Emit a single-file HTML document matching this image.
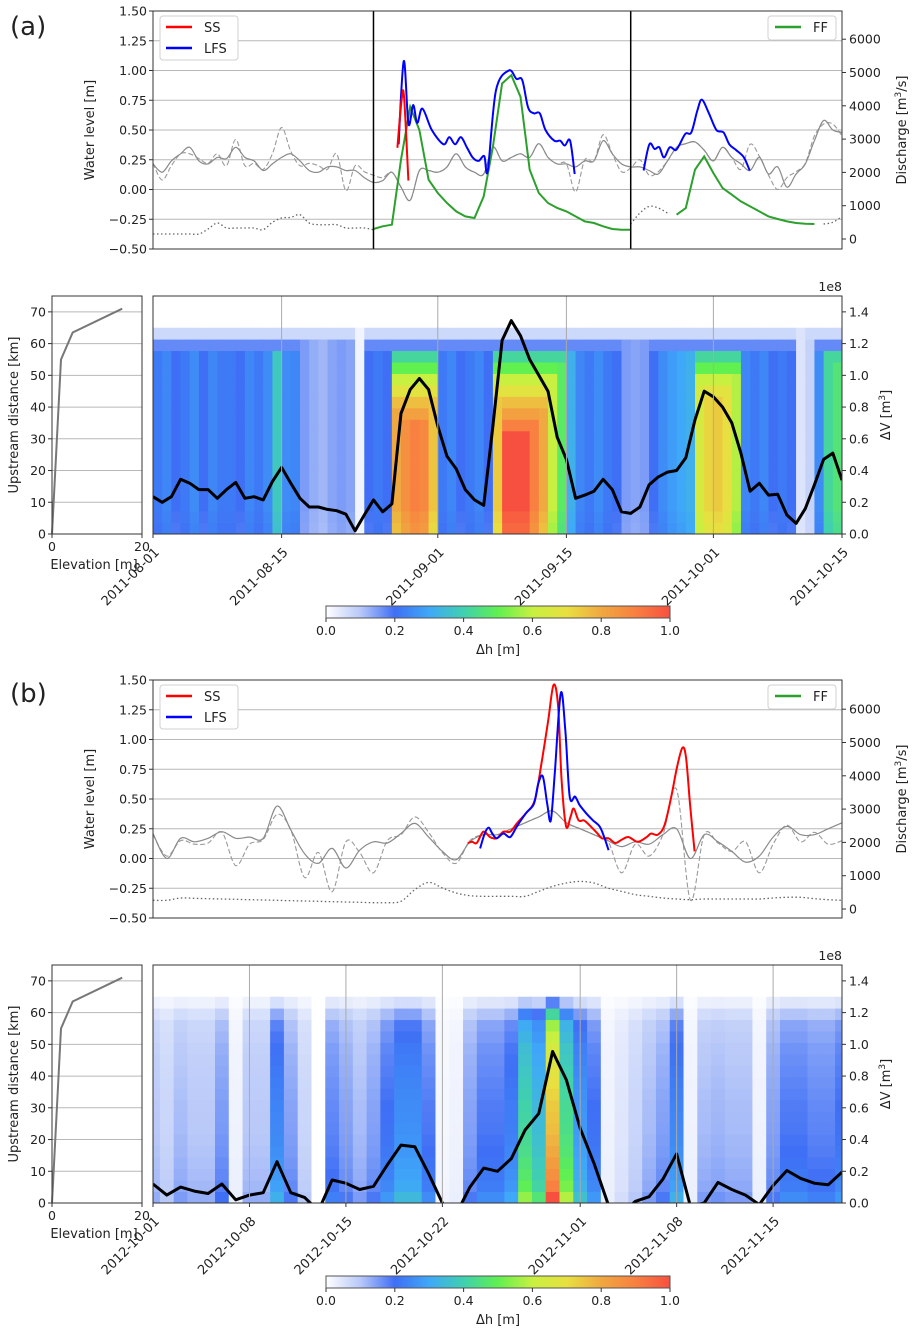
<!DOCTYPE html>
<html><head><meta charset="utf-8"><style>
body{margin:0;background:#fff;}
svg{display:block;font-family:"DejaVu Sans","Liberation Sans",sans-serif;}
text{fill:#222;}
</style></head><body>
<svg id="fig" width="916" height="1334" viewBox="0 0 916 1334" xmlns="http://www.w3.org/2000/svg">
<defs>
<linearGradient id="cmap" x1="0" x2="1" y1="0" y2="0">
<stop offset="0" stop-color="#ffffff"/><stop offset="0.1" stop-color="#b8c8f8"/><stop offset="0.2" stop-color="#3f6ff5"/><stop offset="0.3" stop-color="#3fa8f8"/><stop offset="0.4" stop-color="#40d0b0"/><stop offset="0.5" stop-color="#60f050"/><stop offset="0.6" stop-color="#c8f040"/><stop offset="0.7" stop-color="#e8e040"/><stop offset="0.8" stop-color="#f0a840"/><stop offset="0.9" stop-color="#f88040"/><stop offset="1" stop-color="#f85040"/>
</linearGradient>
<clipPath id="clipTopA"><rect x="153" y="11" width="689" height="238"/></clipPath>
<clipPath id="clipTopB"><rect x="153" y="680" width="689" height="238"/></clipPath>
<clipPath id="clipHeatA"><rect x="153" y="296" width="689" height="238"/></clipPath>
<clipPath id="clipHeatB"><rect x="153" y="965" width="689" height="238"/></clipPath>
</defs>
</svg>
<script>
// ---------- data: panel (a) top ----------
const topASolid=[.215,.145,.24,.30,.355,.24,.215,.27,.26,.355,.27,.24,.16,.215,.27,.30,.24,.16,.145,.19,.19,.16,.16,.10,.06,.075,.145,.02,-.09,.16,.16,.145,.19,.30,.19,.145,.13,.355,.24,.27,.30,.27,.385,.27,.215,.215,.19,.24,.24,.41,.30,.215,.19,.19,.16,.13,.24,.355,.385,.40,.33,.24,.355,.27,.215,.16,.27,.13,.19,.02,.13,.215,.41,.58,.50,.48];
const topADash=[.22,.08,.2,.3,.3,.26,.22,.3,.2,.42,.2,.22,.17,.3,.52,.32,.2,.22,.2,.17,.3,-.01,.2,.15,.12,.1,.145,.02,-.09,.16,.16,.145,.19,.30,.19,.145,.13,.355,.24,.27,.30,.27,.385,.27,.215,.215,-.02,.25,.24,.46,.3,.15,.18,.25,.12,.15,.24,.355,.385,.40,.33,.24,.355,.27,.17,.38,.28,.12,.0,.1,.15,.22,.45,.55,.55,.45];
const topADot=[150,150,150,150,150,150,300,480,330,330,330,330,280,500,630,650,730,480,430,430,430,330,330,330,280,null,null,null,null,null,null,null,null,null,null,null,null,null,null,null,null,null,null,null,null,null,null,null,null,null,null,null,450,780,980,930,780,null,null,null,null,null,null,null,null,null,null,null,null,null,null,null,null,450,500,680];
const topAFF=[null,null,null,null,null,null,null,null,null,null,null,null,null,null,null,null,null,null,null,null,null,null,null,null,300,380,430,2380,3970,3270,1780,1380,1080,830,680,630,1280,2770,4670,4920,4270,2080,1380,1080,930,830,680,530,480,380,300,280,280,null,null,null,null,730,930,2080,2480,1980,1530,1330,1130,980,830,680,600,530,480,460,450,null,null,null];
const topASSDays=[26.6,27.1,27.35,27.8];
const topASSVals=[.35,.78,.75,.075];
const topALFSDays=[26.73,27.30,27.81,28.32,28.76,29.33,30.35,31.62,32.25,32.89,33.52,34.16,34.79,35.43,36.06,36.44,37.33,38.73,39.56,40.19,40.83,41.46,42.10,42.73,43.68,44.32,44.83,45.40,45.90,46.5,53.40,54.03,54.60,55.11,55.62,56.25,56.89,57.33,57.97,58.60,59.24,59.75,60.51,61.33,62.10,62.73,63.49,64.32,64.95];
const topALFSVals=[.38,1.08,.55,.71,.56,.68,.50,.38,.44,.38,.44,.355,.27,.24,.28,.16,.83,1.0,.93,.92,.69,.64,.64,.50,.41,.41,.37,.41,.13,null,.16,.38,.34,.355,.27,.355,.33,.38,.47,.48,.66,.755,.64,.50,.48,.38,.33,.27,.16];
// ---------- data: panel (a) heatmap ----------
const heatAAmp=[.22,.24,.2,.22,.25,.2,.24,.22,.22,.2,.24,.22,.25,.38,.25,.24,.15,.13,.12,.14,.15,.14,.02,.2,.22,.2,.8,.86,.9,.88,.75,.22,.24,.2,.22,.24,.2,.74,1,1,1,.9,.8,.6,.48,.32,.24,.22,.25,.22,.2,.15,.14,.15,.2,.25,.28,.3,.32,.64,.72,.74,.7,.58,.24,.22,.24,.2,.22,.2,.05,.08,.25,.42,.46];
const heatARowFac=[.95,.97,1,1,1,1,1,1,1,1,1,1,1,1,1,1,1,1];
const heatARowCap=[1,1,1,1,1,1,1,1,1,.9,.82,.76,.68,.6,.5,.42,.17,.07];
const dVA=[.235,.20,.235,.345,.32,.28,.28,.225,.28,.325,.225,.235,.215,.33,.42,.32,.225,.17,.17,.155,.147,.125,.02,.12,.215,.14,.19,.76,.91,.98,.91,.68,.49,.41,.28,.215,.18,.68,1.22,1.345,1.25,1.1,1.0,.9,.61,.47,.225,.245,.27,.345,.28,.14,.13,.17,.31,.36,.39,.40,.48,.72,.90,.865,.80,.70,.51,.27,.32,.245,.25,.12,.067,.16,.31,.47,.51,.34];
const datesA=["2011-08-01","2011-08-15","2011-09-01","2011-09-15","2011-10-01","2011-10-15"];
const dateDaysA=[0,14,31,45,61,75];
// ---------- data: panel (b) top ----------
const topBSolid=[.21,.0,.17,.14,.17,.225,.17,.18,.17,.44,.24,.04,-.04,.085,-.08,.07,.14,.13,.21,.295,.18,.06,-.01,.14,.2,.2,.25,.3,.35,.4,.3,.25,.2,.15,.1,.14,.12,.2,.25,.0,.2,.14,.06,-.03,.02,.18,.27,.2,.2,.25,.3];
const topBDash=[.2,.02,.15,.12,.13,.22,-.06,.12,.16,.37,.24,-.16,.05,-.28,.14,.05,-.12,.15,.2,.35,.22,.05,-.04,.15,.2,.2,.25,.3,.35,.4,.3,.25,.2,.15,-.12,.12,.02,.2,.58,-.35,.2,.13,.06,.14,-.12,.12,.28,.14,.22,.12,.15];
const topBDot=[260,260,330,320,310,300,290,280,270,260,250,240,230,220,210,200,190,190,230,580,800,630,480,400,380,380,380,380,530,680,780,830,780,630,530,430,380,330,300,280,300,300,300,300,300,330,350,350,310,280,260];
const topBSSDays=[22.84,23.16,23.49,23.97,24.46,24.94,25.43,25.92,26.41,27.06,27.71,28.19,28.68,29.07,29.40,29.65,29.98,30.30,30.53,30.89,31.28,31.76,32.26,32.57,33.06,33.55,34.04,34.52,35.17,35.82,36.15,36.63,37.12,37.61,38.03,38.42,38.68,38.97,39.30];
const topBSSVals=[.13,.14,.13,.225,.18,.17,.225,.225,.295,.38,.49,.80,1.16,1.46,1.28,.66,.27,.35,.42,.32,.32,.27,.21,.17,.17,.13,.16,.18,.14,.18,.21,.2,.28,.52,.77,.93,.85,.46,.06];
const topBLFSDays=[23.74,24.07,24.36,24.62,24.94,25.43,25.92,26.41,27.06,27.64,27.96,28.29,28.61,28.87,29.17,29.59,29.92,30.24,30.63,30.96,31.44,31.93,32.41,32.74,33.06];
const topBLFSVals=[.085,.21,.26,.21,.17,.21,.18,.27,.38,.46,.63,.69,.46,.32,.74,1.39,1.08,.52,.52,.45,.38,.32,.27,.18,.07];
// ---------- data: panel (b) heatmap ----------
const heatBAmp=[.13,.1,.15,.13,.13,.2,.03,.13,.13,.32,.19,.1,0,.23,.19,.15,.19,.27,.34,.34,.25,.02,.03,.19,.25,.25,.3,.55,.46,1.0,.58,.36,.27,.03,.06,.1,.15,.19,.32,.03,.15,.16,.15,.15,.03,.19,.25,.25,.23,.23,.27];
const heatBRowFac=[1,.9,.86,.83,.8,.78,.76,.75,.74,.72,.7,.68,.66,.64,.6,.56,.42,.18];
const heatBRowCap=[1,1,1,1,1,1,1,1,1,1,1,1,1,1,1,1,1,1];
const dVB=[.12,.05,.1,.075,.06,.12,.02,.05,.065,.26,.065,.035,-.05,.145,.125,.085,.105,.24,.365,.355,.185,0,-.07,.1,.22,.2,.28,.46,.565,.955,.775,.47,.25,0,-.07,.01,.04,.15,.31,-.02,0,.13,.085,.05,-.01,.11,.205,.155,.125,.115,.195];
const datesB=["2012-10-01","2012-10-08","2012-10-15","2012-10-22","2012-11-01","2012-11-08","2012-11-15"];
const dateDaysB=[0,7,14,21,31,38,45];
// ---------- shared ----------
const levelTicks=[-0.5,-0.25,0,0.25,0.5,0.75,1.0,1.25,1.5];
const dischargeTicks=[0,1000,2000,3000,4000,5000,6000];
const kmTicks=[0,10,20,30,40,50,60,70];
const dVTicks=[0,0.2,0.4,0.6,0.8,1.0,1.2,1.4];
const cbTicks=[0,0.2,0.4,0.6,0.8,1.0];
const elevKm=[0,55,63.5,71];
const elevM=[0,2,4.6,15.6];

const NS="http://www.w3.org/2000/svg";
const svg=document.getElementById('fig');
function mk(tag,attrs,parent){const e=document.createElementNS(NS,tag);for(const k in attrs)e.setAttribute(k,attrs[k]);(parent||svg).appendChild(e);return e;}
function txt(s,x,y,opt,parent){const t=mk('text',Object.assign({x:x,y:y,'font-size':12.5},opt||{}),parent);t.textContent=s;return t;}
const stops=[[0,[255,255,255]],[.1,[184,200,248]],[.2,[63,111,245]],[.3,[63,168,248]],[.4,[64,208,176]],[.5,[96,240,80]],[.6,[200,240,64]],[.7,[232,224,64]],[.8,[240,168,64]],[.9,[248,128,64]],[1,[248,80,64]]];
function cmap(v){v=Math.max(0,Math.min(1,v));for(let i=1;i<stops.length;i++){if(v<=stops[i][0]){const a=stops[i-1],b=stops[i];const t=(v-a[0])/(b[0]-a[0]);const c=a[1].map((x,j)=>Math.round(x+(b[1][j]-x)*t));return `rgb(${c[0]},${c[1]},${c[2]})`;}}return 'rgb(248,80,64)';}
function fmtMinus(s){return s.replace('-','\u2212');}
function pathFrom(xs,ys,fx,fy){let d='',pen=false;for(let i=0;i<xs.length;i++){if(ys[i]===null||ys[i]===undefined){pen=false;continue;}d+=(pen?'L':'M')+fx(xs[i]).toFixed(1)+','+fy(ys[i]).toFixed(1);pen=true;}return d;}
function smoothFrom(xs,ys,fx,fy){
  let d='';let seg=[];
  const flush=()=>{if(!seg.length)return;d+='M'+seg[0][0].toFixed(1)+','+seg[0][1].toFixed(1);
    for(let i=0;i<seg.length-1;i++){const p0=seg[Math.max(0,i-1)],p1=seg[i],p2=seg[i+1],p3=seg[Math.min(seg.length-1,i+2)];
      const c1x=p1[0]+(p2[0]-p0[0])/6,c1y=p1[1]+(p2[1]-p0[1])/6,c2x=p2[0]-(p3[0]-p1[0])/6,c2y=p2[1]-(p3[1]-p1[1])/6;
      d+='C'+c1x.toFixed(1)+','+c1y.toFixed(1)+' '+c2x.toFixed(1)+','+c2y.toFixed(1)+' '+p2[0].toFixed(1)+','+p2[1].toFixed(1);}
    seg=[];};
  for(let i=0;i<xs.length;i++){if(ys[i]===null||ys[i]===undefined){flush();continue;}seg.push([fx(xs[i]),fy(ys[i])]);}
  flush();return d;}
const X0=153,X1=842;

function topPanel(o){
  const y0=o.top, y1=o.top+238;
  const xd=d=>X0+(X1-X0)*d/o.ndays;
  const yL=v=>y0+(1.5-v)*119;
  const yR=q=>o.rzero-q*0.0333;
  const g=mk('g',{});
  
  
  levelTicks.forEach(v=>{
    const l=mk('line',{x1:X0,x2:X1,y1:yL(v),y2:yL(v),stroke:'#b8b8b8','stroke-width':1},g);
    
    
    const tk=mk('line',{x1:X0-4,x2:X0,y1:yL(v),y2:yL(v),stroke:'#333'},g);
    
    
    const t=txt(fmtMinus(v.toFixed(2)),X0-6,yL(v)+4.5,{'text-anchor':'end'},g);
    
    
  });
  dischargeTicks.forEach(q=>{
    const tk=mk('line',{x1:X1,x2:X1+4,y1:yR(q),y2:yR(q),stroke:'#333'},g);
    
    
    const t=txt(String(q),X1+7,yR(q)+4.5,{},g);
    
    
  });
  const days=[...Array(o.solid.length).keys()];
  const cg=mk('g',{'clip-path':'url(#'+o.clip+')'},g);
  
  
  const p1=mk('path',{d:smoothFrom(days,o.dot,xd,yR),fill:'none',stroke:'#666','stroke-width':1.3,'stroke-dasharray':'1.5,2.5'},cg);
  
  
  const p2=mk('path',{d:smoothFrom(days,o.dash,xd,yL),fill:'none',stroke:'#999','stroke-width':1.1,'stroke-dasharray':'5,2.5'},cg);
  
  
  const p3=mk('path',{d:smoothFrom(days,o.solid,xd,yL),fill:'none',stroke:'#8a8a8a','stroke-width':1.2},cg);
  
  
  if(o.ff){const p=mk('path',{d:pathFrom(days,o.ff,xd,yR),fill:'none',stroke:'#2ca02c','stroke-width':2},cg);
    
    }
  const pr=mk('path',{d:smoothFrom(o.ssD,o.ssV,xd,yL),fill:'none',stroke:'#ff0000','stroke-width':2,'stroke-linejoin':'round'},cg);
  
  
  const pb=mk('path',{d:smoothFrom(o.lfsD,o.lfsV,xd,yL),fill:'none',stroke:'#0000ff','stroke-width':2,'stroke-linejoin':'round'},cg);
  
  
  if(o.name==='a'){cg.appendChild(pr);}
  (o.vlines||[]).forEach(d=>{const l=mk('line',{x1:xd(d),x2:xd(d),y1:y0,y2:y1,stroke:'#000','stroke-width':1.5},g);
    
    });
  const fr=mk('rect',{x:X0,y:y0,width:X1-X0,height:238,fill:'none',stroke:'#333','stroke-width':1},g);
  
  
  const lg=mk('g',{},g);
  
  
  mk('rect',{x:160,y:y0+5,width:78,height:44,rx:3,fill:'#fff',stroke:'#d0d0d0'},lg);
  mk('line',{x1:166,x2:192,y1:y0+16,y2:y0+16,stroke:'#ff0000','stroke-width':2.5},lg);
  const ls=txt('SS',204,y0+21,{'font-size':13},lg);
  
  
  mk('line',{x1:166,x2:192,y1:y0+37,y2:y0+37,stroke:'#0000ff','stroke-width':2.5},lg);
  const ll=txt('LFS',204,y0+42,{'font-size':13},lg);
  
  
  const rg=mk('g',{},g);
  
  
  mk('rect',{x:768,y:y0+5,width:68,height:24,rx:3,fill:'#fff',stroke:'#d0d0d0'},rg);
  mk('line',{x1:775,x2:801,y1:y0+16,y2:y0+16,stroke:'#2ca02c','stroke-width':2.5},rg);
  const lf=txt('FF',813,y0+21,{'font-size':13},rg);
  
  
  const ya=txt('Water level [m]',0,0,{'text-anchor':'middle','font-size':13,transform:`translate(94,${y0+119}) rotate(-90)`},g);
  
  
  const yb=mk('text',{'text-anchor':'middle','font-size':13,transform:`translate(906,${y0+119}) rotate(-90)`},g);
  yb.innerHTML='Discharge [m<tspan dy="-5" font-size="9">3</tspan><tspan dy="5">/s]</tspan>';
  
  
}

function heatPanel(o){
  const y0=o.top,y1=o.top+238;
  const xd=d=>X0+(X1-X0)*d/o.ndays;
  const yK=k=>y1-k*238/75;
  const yV=v=>y1-v/1.5*238;
  const g=mk('g',{});
  
  
  const cg=mk('g',{'clip-path':'url(#'+o.clip+')'},g);
  
  
  const rh=65/18;
  o.amp.forEach((a,d)=>{
    for(let r=0;r<18;r++){
      const v=Math.min(a*o.rowFac[r],o.rowCap[r]);
      const xa=xd(d+o.off),xb=xd(d+1+o.off);
      const c=mk('rect',{x:xa.toFixed(2),y:yK((r+1)*rh).toFixed(2),width:(xb-xa+0.4).toFixed(2),height:(rh*238/75+0.4).toFixed(2),fill:cmap(v)},cg);
      
      
    }
  });
  o.dateDays.forEach((d,i)=>{
    const l=mk('line',{x1:xd(d),x2:xd(d),y1:y0,y2:y1,stroke:'#aaa','stroke-width':1},g);
    
    
    const tk=mk('line',{x1:xd(d),x2:xd(d),y1:y1,y2:y1+4,stroke:'#333'},g);
    
    
    const t=txt(o.dates[i],0,0,{'text-anchor':'end','font-size':13,transform:`translate(${xd(d)+7},${y1+19}) rotate(-45)`},g);
    
    
  });
  const days=[...Array(o.dv.length).keys()];
  const pl=mk('path',{d:pathFrom(days,o.dv,xd,yV),fill:'none',stroke:'#000','stroke-width':3,'stroke-linejoin':'round'},cg);
  
  
  const fr=mk('rect',{x:X0,y:y0,width:X1-X0,height:238,fill:'none',stroke:'#333'},g);
  
  
  dVTicks.forEach(v=>{
    const tk=mk('line',{x1:X1,x2:X1+4,y1:yV(v),y2:yV(v),stroke:'#333'},g);
    
    
    const t=txt(v.toFixed(1),X1+7,yV(v)+4.5,{},g);
    
    
  });
  const e8=txt('1e8',842,y0-5,{'text-anchor':'end'},g);
  
  
  const ra=mk('text',{'text-anchor':'middle','font-size':13,transform:`translate(890,${y0+119}) rotate(-90)`},g);
  ra.innerHTML='ΔV [m<tspan dy="-5" font-size="9">3</tspan><tspan dy="5">]</tspan>';
  
  
  const ex0=52,ex1=142;
  const xe=m=>ex0+(ex1-ex0)*m/20;
  const eg=mk('g',{},g);
  
  
  kmTicks.forEach(k=>{
    const l=mk('line',{x1:ex0,x2:ex1,y1:yK(k),y2:yK(k),stroke:'#b8b8b8'},eg);
    
    
    const tk=mk('line',{x1:ex0-4,x2:ex0,y1:yK(k),y2:yK(k),stroke:'#333'},eg);
    
    
    const t=txt(String(k),ex0-6,yK(k)+4.5,{'text-anchor':'end'},eg);
    
    
  });
  const ep=mk('path',{d:pathFrom(elevM,elevKm,xe,yK),fill:'none',stroke:'#777','stroke-width':2},eg);
  
  
  const ef=mk('rect',{x:ex0,y:y0,width:ex1-ex0,height:238,fill:'none',stroke:'#333'},eg);
  
  
  [0,20].forEach(m=>{
    const tk=mk('line',{x1:xe(m),x2:xe(m),y1:y1,y2:y1+4,stroke:'#333'},eg);
    
    
    const t=txt(String(m),xe(m),y1+17,{'text-anchor':'middle'},eg);
    
    
  });
  const ex=txt('Elevation [m]',94,y1+35,{'text-anchor':'middle','font-size':13},eg);
  
  
  const ey=txt('Upstream distance [km]',0,0,{'text-anchor':'middle','font-size':13,transform:`translate(18,${y0+119}) rotate(-90)`},eg);
  
  
  const cb=mk('g',{},g);
  
  
  mk('rect',{x:326,y:o.cbY,width:344,height:12,fill:'url(#cmap)',stroke:'#555'},cb);
  cbTicks.forEach(v=>{
    const x=326+344*v;
    mk('line',{x1:x,x2:x,y1:o.cbY+12,y2:o.cbY+16,stroke:'#333'},cb);
    const t=txt(v.toFixed(1),x,o.cbY+29,{'text-anchor':'middle'},cb);
    
    
  });
  const ct=txt('Δh [m]',498,o.cbY+48,{'text-anchor':'middle','font-size':13},cb);
  
  
}

topPanel({name:'a',top:11,rzero:239,ndays:75,clip:'clipTopA',solid:topASolid,dash:topADash,dot:topADot,ff:topAFF,ssD:topASSDays,ssV:topASSVals,lfsD:topALFSDays,lfsV:topALFSVals,vlines:[24,52]});
heatPanel({name:'a',top:296,ndays:75,clip:'clipHeatA',amp:heatAAmp,rowFac:heatARowFac,rowCap:heatARowCap,off:0,dv:dVA,dates:datesA,dateDays:dateDaysA,cbY:606});
topPanel({name:'b',top:680,rzero:909,ndays:50,clip:'clipTopB',solid:topBSolid,dash:topBDash,dot:topBDot,ff:null,ssD:topBSSDays,ssV:topBSSVals,lfsD:topBLFSDays,lfsV:topBLFSVals,vlines:[]});
heatPanel({name:'b',top:965,ndays:50,clip:'clipHeatB',amp:heatBAmp,rowFac:heatBRowFac,rowCap:heatBRowCap,off:-0.5,dv:dVB,dates:datesB,dateDays:dateDaysB,cbY:1276});
const la=txt('(a)',10,35,{'font-size':26});


const lb=txt('(b)',10,702,{'font-size':26});


</script>
</body></html>
